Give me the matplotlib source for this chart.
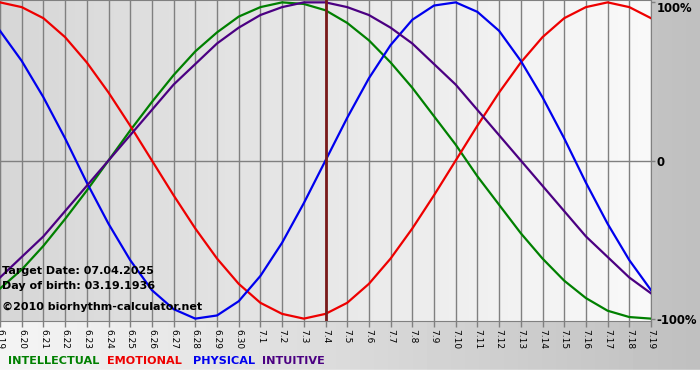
import numpy as np
import matplotlib
matplotlib.use('Agg')
import matplotlib.pyplot as plt

# Days shown on the x axis (June 19 - July 19)
days = ['6.19', '6.20', '6.21', '6.22', '6.23', '6.24', '6.25', '6.26', '6.27', '6.28',
        '6.29', '6.30', '7.1', '7.2', '7.3', '7.4', '7.5', '7.6', '7.7', '7.8', '7.9',
        '7.10', '7.11', '7.12', '7.13', '7.14', '7.15', '7.16', '7.17', '7.18', '7.19']

# Cycle values (-1 .. 1)
intellectual = [-0.81, -0.69, -0.54, -0.37, -0.19, 0.00, 0.19, 0.37, 0.54, 0.69,
                0.81, 0.91, 0.97, 1.00, 0.99, 0.95, 0.87, 0.76, 0.62, 0.46, 0.28,
                0.10, -0.10, -0.28, -0.46, -0.62, -0.76, -0.87, -0.95, -0.99, -1.00]
emotional = [1.00, 0.97, 0.90, 0.78, 0.62, 0.43, 0.22, 0.00, -0.22, -0.43,
             -0.62, -0.78, -0.90, -0.97, -1.00, -0.97, -0.90, -0.78, -0.62, -0.43, -0.22,
             0.00, 0.22, 0.43, 0.62, 0.78, 0.90, 0.97, 1.00, 0.97, 0.90]
physical = [0.82, 0.63, 0.40, 0.14, -0.14, -0.40, -0.63, -0.82, -0.94, -1.00,
            -0.98, -0.89, -0.73, -0.52, -0.27, 0.00, 0.27, 0.52, 0.73, 0.89, 0.98,
            1.00, 0.94, 0.82, 0.63, 0.40, 0.14, -0.14, -0.40, -0.63, -0.82]
intuitive = [-0.74, -0.61, -0.48, -0.32, -0.16, 0.00, 0.16, 0.32, 0.48, 0.61,
             0.74, 0.84, 0.92, 0.97, 1.00, 1.00, 0.97, 0.92, 0.84, 0.74, 0.61,
             0.48, 0.32, 0.16, 0.00, -0.16, -0.32, -0.48, -0.61, -0.74, -0.84]

target_day = '7.4'
series = [('INTELLECTUAL', intellectual, '#008000'),
          ('EMOTIONAL', emotional, '#ee0000'),
          ('PHYSICAL', physical, '#0000ee'),
          ('INTUITIVE', intuitive, '#4b0082')]

W, H = 700, 380
fig = plt.figure(figsize=(W / 100, H / 100), dpi=100)

# page background: light-to-gray gradient, white strip at the very bottom
bg = fig.add_axes([0, 0, 1, 1], zorder=-10)
grad = np.linspace(0.96, 0.75, 200)
img = np.tile(grad, (100, 1))
bg.imshow(img, cmap='gray', vmin=0, vmax=1, aspect='auto', extent=[0, 1, 10 / H, 1])
bg.axhspan(0, 10 / H, color='white')
bg.set_xlim(0, 1)
bg.set_ylim(0, 1)
bg.axis('off')

ax = fig.add_axes([0, 59 / H, 651 / W, 321 / H])
x = np.arange(len(days))
ax.set_xlim(0, len(days) - 1)
ax.set_ylim(-1.015, 1.015)

# plot-area gradient (darker on the left)
pgrad = np.tile(np.linspace(0.84, 0.975, 200), (10, 1))
ax.imshow(pgrad, cmap='gray', vmin=0, vmax=1, aspect='auto',
          extent=[0, len(days) - 1, -1.015, 1.015], zorder=0)

ax.set_xticks(x)
ax.set_xticklabels(days, rotation=-90, fontsize=6.5)
ax.grid(axis='x', color='#808080', lw=1, zorder=1)
ax.axhline(0, color='#808080', lw=1, zorder=1)
for s in ax.spines.values():
    s.set_color('#808080')
ax.tick_params(axis='x', length=4, width=1, color='#808080', pad=2)

ax.yaxis.tick_right()
ax.set_yticks([-1, 0, 1])
ax.set_yticklabels(['-100%', '0', '100%'], fontsize=8.4, fontweight='bold')
ax.tick_params(axis='y', length=3, width=1, color='#808080', pad=1)
ax.get_yticklabels()[2].set_va('top')

for name, vals, col in series:
    ax.plot(x, vals, color=col, lw=1.6, zorder=3)

ax.axvline(days.index(target_day), color='#7a1a1a', lw=2, zorder=4)

# info text
ax.text(0.003, 0.156, 'Target Date: 07.04.2025', transform=ax.transAxes,
        fontsize=8, fontweight='bold', va='center', zorder=5)
ax.text(0.003, 0.109, 'Day of birth: 03.19.1936', transform=ax.transAxes,
        fontsize=8, fontweight='bold', va='center', zorder=5)
ax.text(0.003, 0.044, '\u00a92010 biorhythm-calculator.net', transform=ax.transAxes,
        fontsize=8, fontweight='bold', va='center', zorder=5)

# legend words
legend_x = [8, 107, 193, 262]
for (name, vals, col), lx in zip(series, legend_x):
    fig.text(lx / W, 1 - 361 / H, name, color=col, fontsize=8.1,
             fontweight='bold', va='center')

fig.savefig('out.png', dpi=100)
